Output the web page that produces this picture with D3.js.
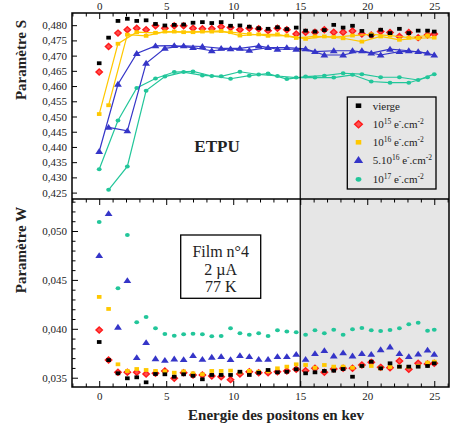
<!DOCTYPE html>
<html>
<head>
<meta charset="utf-8">
<script src="https://cdn.jsdelivr.net/npm/d3@7/dist/d3.min.js"></script>
<style>
  body { margin: 0; background: #fff; }
  svg text { font-family: "Liberation Serif", "Times New Roman", "DejaVu Serif", serif; fill: #222; }
</style>
</head>
<body>
<div id="vis"></div>
<script>

// energies (keV)
var energies = [0, 0.7, 1.4, 2.1, 2.8, 3.5, 4.2, 4.9, 5.6, 6.3, 7, 7.7, 8.4, 9.1, 9.8, 10.5, 11.2, 11.9,
  12.6, 13.3, 14, 14.7, 15.4, 16.1, 16.8, 17.5, 18.2, 18.9, 19.6, 20.3, 21, 21.7, 22.4, 23.1, 23.8, 24.5, 25];

// parametre S
var sVierge = [0.4675,0.4759,0.4814,0.4821,0.4814,0.4816,0.4804,0.4799,0.4801,0.4802,0.4808,0.4810,0.4807,0.4810,0.4798,0.4799,0.4795,0.4790,0.4788,0.4793,0.4787,0.4792,0.4782,0.4779,0.4784,0.4801,0.4792,0.4798,0.4781,0.4766,0.4785,0.4774,0.4788,0.4774,0.4782,0.4782,0.4779];
var s1e15 = [0.4646,0.4730,0.4774,0.4785,0.4790,0.4785,0.4798,0.4790,0.4798,0.4798,0.4790,0.4788,0.4788,0.4795,0.4792,0.4785,0.4790,0.4788,0.4782,0.4790,0.4785,0.4771,0.4777,0.4777,0.4785,0.4777,0.4777,0.4781,0.4771,0.4768,0.4779,0.4776,0.4763,0.4776,0.4759,0.4768,0.4771];
var s1e16 = [0.4508,0.4537,0.4739,0.4769,0.4777,0.4765,0.4775,0.4779,0.4779,0.4777,0.4777,0.4779,0.4779,0.4781,0.4777,0.4766,0.4771,0.4770,0.4765,0.4770,0.4766,0.4758,0.4755,0.4763,0.4763,0.4761,0.4757,0.4766,0.4746,0.4770,0.4763,0.4766,0.4752,0.4759,0.4757,0.4766,0.4759];
var s5e16 = [0.4385,0.4464,0.4606,0.4453,0.4707,0.4675,0.4732,0.4724,0.4733,0.4732,0.4726,0.4730,0.4716,0.4724,0.4722,0.4724,0.4717,0.4732,0.4726,0.4721,0.4726,0.4721,0.4722,0.4713,0.4702,0.4716,0.4702,0.4716,0.4716,0.4708,0.4702,0.4721,0.4713,0.4716,0.4713,0.4708,0.4702];
var s1e17 = [0.4327,0.4259,0.4487,0.4336,0.4594,0.4585,0.4625,0.4631,0.4646,0.4646,0.4648,0.4635,0.4633,0.4632,0.4624,0.4647,0.4634,0.4638,0.4641,0.4633,0.4623,0.4628,0.4631,0.4628,0.4634,0.4628,0.4642,0.4637,0.4639,0.4615,0.4629,0.4611,0.4629,0.4611,0.4620,0.4629,0.4639];

// parametre W
var wVierge = [0.03865,0.03680,0.03545,0.03494,0.03504,0.03453,0.03538,0.03535,0.03510,0.03535,0.03520,0.03484,0.03528,0.03528,0.03528,0.03561,0.03528,0.03551,0.03579,0.03555,0.03561,0.03586,0.03545,0.03555,0.03569,0.03572,0.03589,0.03510,0.03620,0.03664,0.03596,0.03647,0.03613,0.03613,0.03613,0.03620,0.03647];
var w1e15 = [0.03988,0.03681,0.03555,0.03555,0.03555,0.03538,0.03545,0.03569,0.03494,0.03551,0.03528,0.03528,0.03517,0.03510,0.03480,0.03538,0.03561,0.03551,0.03551,0.03561,0.03569,0.03586,0.03572,0.03596,0.03555,0.03589,0.03596,0.03596,0.03630,0.03657,0.03606,0.03602,0.03671,0.03586,0.03647,0.03640,0.03647];
var w1e16 = [0.04326,0.04203,0.03637,0.03569,0.03589,0.03579,0.03569,0.03565,0.03551,0.03565,0.03545,0.03535,0.03569,0.03569,0.03572,0.03555,0.03570,0.03561,0.03565,0.03596,0.03613,0.03637,0.03630,0.03602,0.03630,0.03613,0.03613,0.03602,0.03620,0.03620,0.03596,0.03610,0.03613,0.03610,0.03620,0.03654,0.03664];
var w5e16 = [0.04748,0.05178,0.04016,0.04492,0.03705,0.03858,0.03694,0.03678,0.03691,0.03684,0.03725,0.03688,0.03709,0.03715,0.03684,0.03725,0.03715,0.03688,0.03688,0.03715,0.03715,0.03739,0.03688,0.03746,0.03776,0.03722,0.03753,0.03722,0.03746,0.03739,0.03786,0.03814,0.03746,0.03715,0.03742,0.03783,0.03739];
var w1e17 = [0.05093,null,0.04415,0.04960,0.04067,0.04121,0.04005,0.03947,0.03930,0.03944,0.03950,0.03944,0.03924,0.03927,0.04005,0.03954,0.03940,0.03954,0.03927,0.03985,0.03972,0.03964,0.03940,0.03985,0.03954,0.03991,0.03940,0.03995,0.04008,0.03985,0.03978,0.03988,0.04005,0.04046,0.04063,0.03981,0.03991];

var xTicks = [0, 5, 10, 15, 20, 25];
var xMinorTicks = [-2, -1, 1, 2, 3, 4, 6, 7, 8, 9, 11, 12, 13, 14, 16, 17, 18, 19, 21, 22, 23, 24, 26];
var sTicks = [0.425, 0.430, 0.435, 0.440, 0.445, 0.450, 0.455, 0.460, 0.465, 0.470, 0.475, 0.480];
var wTicks = [0.035, 0.040, 0.045, 0.050];
var wMinorTicks = [0.036, 0.037, 0.038, 0.039, 0.041, 0.042, 0.043, 0.044, 0.046, 0.047, 0.048, 0.049, 0.051, 0.052, 0.053];
var shadeFrom = 15;

var width = 452;
var height = 427;
var mLeft = 72, mRight = 449, mTop = 13, mMid = 199, mBottom = 387;
var serif = '"Liberation Serif", "Times New Roman", serif';

var x = d3.scaleLinear().domain([-2.03, 26.1]).range([mLeft, mRight]);
var yS = d3.scaleLinear().domain([0.4229, 0.4840]).range([mMid, mTop]);
var yW = d3.scaleLinear().domain([0.03405, 0.05327]).range([mBottom, mMid]);

var comma = function(d) { return d3.format('.3f')(d).replace('.', ','); };

var svg = d3.select('#vis').append('svg')
  .attr('width', width)
  .attr('height', height);

svg.append('rect').attr('width', width).attr('height', height).attr('fill', '#fff');

// shaded part of both panels
svg.append('rect')
  .attr('x', x(shadeFrom)).attr('y', mTop)
  .attr('width', mRight - x(shadeFrom)).attr('height', mBottom - mTop)
  .attr('fill', '#e6e6e6');

var defs = svg.append('defs');
defs.append('clipPath').attr('id', 'clipS').append('rect')
  .attr('x', mLeft).attr('y', mTop).attr('width', mRight - mLeft).attr('height', mMid - mTop);
defs.append('clipPath').attr('id', 'clipW').append('rect')
  .attr('x', mLeft).attr('y', mMid).attr('width', mRight - mLeft).attr('height', mBottom - mMid);

var series = [
  { name: 'vierge', s: sVierge, w: wVierge, shape: 'square', color: '#000000', line: false },
  { name: '1e15', s: s1e15, w: w1e15, shape: 'diamond', color: '#ff1a1a', line: false },
  { name: '1e16', s: s1e16, w: w1e16, shape: 'square', color: '#ffc800', line: true },
  { name: '5e16', s: s5e16, w: w5e16, shape: 'triangle', color: '#3535c8', line: true },
  { name: '1e17', s: s1e17, w: w1e17, shape: 'circle', color: '#22c69a', line: true }
];
var drawOrder = [4, 3, 1, 2, 0];

function marker(sel, shape, color, big) {
  var k = big ? 1.2 : 1;
  if (shape === 'square') {
    sel.append('rect').attr('x', -2.3 * k).attr('y', -1.9 * k)
      .attr('width', 4.6 * k).attr('height', 3.8 * k).attr('fill', color);
  } else if (shape === 'diamond') {
    sel.append('path')
      .attr('d', 'M0,' + (-3 * k) + 'L' + (3.2 * k) + ',0L0,' + (3 * k) + 'L' + (-3.2 * k) + ',0Z')
      .attr('fill', '#ff5050').attr('stroke', color).attr('stroke-width', 1.4);
  } else if (shape === 'triangle') {
    sel.append('path')
      .attr('d', 'M0,' + (-3.4 * k) + 'L' + (3.9 * k) + ',' + (2.4 * k) + 'L' + (-3.9 * k) + ',' + (2.4 * k) + 'Z')
      .attr('fill', color);
  } else {
    sel.append('ellipse').attr('rx', 2.4 * k).attr('ry', 2 * k).attr('fill', color);
  }
}

function points(vals) {
  return energies.map(function(e, i) { return { e: e, v: vals[i], i: i }; })
    .filter(function(d) { return d.v != null; });
}

function drawPanel(key, yScale, clipId, withLines) {
  var g = svg.append('g').attr('clip-path', 'url(#' + clipId + ')');
  var line = d3.line()
    .x(function(d) { return x(d.e); })
    .y(function(d) { return yScale(d.v); });

  drawOrder.forEach(function(k) {
    var s = series[k];
    var pts = points(s[key]);
    if (withLines && s.line) {
      // two interleaved scans
      [0, 1].forEach(function(p) {
        g.append('path')
          .datum(pts.filter(function(d) { return d.i % 2 === p; }))
          .attr('d', line)
          .attr('fill', 'none')
          .attr('stroke', s.color)
          .attr('stroke-width', 1.2);
      });
    }
    g.selectAll('.m' + k)
      .data(pts)
      .enter().append('g')
      .attr('transform', function(d) { return 'translate(' + x(d.e) + ',' + yScale(d.v) + ')'; })
      .each(function() { marker(d3.select(this), s.shape, s.color, false); });
  });
}

drawPanel('s', yS, 'clipS', true);
drawPanel('w', yW, 'clipW', false);

// axes
function styleAxis(g) {
  g.attr('font-family', serif);
  g.select('.domain').remove();
  g.selectAll('line').attr('stroke', '#000').attr('stroke-width', 1);
  g.selectAll('text').style('font-size', '11px').attr('fill', '#222');
}

svg.append('g').attr('transform', 'translate(0,' + mTop + ')')
  .call(d3.axisTop(x).tickValues(xTicks).tickSizeInner(-6).tickSizeOuter(0).tickPadding(3))
  .call(styleAxis);
svg.append('g').attr('transform', 'translate(0,' + mTop + ')')
  .call(d3.axisTop(x).tickValues(xMinorTicks).tickSizeInner(-3.5).tickSizeOuter(0).tickFormat(''))
  .call(styleAxis);

svg.append('g').attr('transform', 'translate(0,' + mBottom + ')')
  .call(d3.axisBottom(x).tickValues(xTicks).tickSizeInner(-6).tickSizeOuter(0).tickPadding(5))
  .call(styleAxis);
svg.append('g').attr('transform', 'translate(0,' + mBottom + ')')
  .call(d3.axisBottom(x).tickValues(xMinorTicks).tickSizeInner(-3.5).tickSizeOuter(0).tickFormat(''))
  .call(styleAxis);

// ticks under the separator
svg.append('g').attr('transform', 'translate(0,' + mMid + ')')
  .call(d3.axisTop(x).tickValues(xTicks).tickSizeInner(-6).tickSizeOuter(0).tickFormat(''))
  .call(styleAxis);
svg.append('g').attr('transform', 'translate(0,' + mMid + ')')
  .call(d3.axisTop(x).tickValues(xMinorTicks).tickSizeInner(-3.5).tickSizeOuter(0).tickFormat(''))
  .call(styleAxis);

svg.append('g').attr('transform', 'translate(' + mLeft + ',0)')
  .call(d3.axisLeft(yS).tickValues(sTicks).tickFormat(comma).tickSizeInner(-5).tickSizeOuter(0).tickPadding(5))
  .call(styleAxis);

svg.append('g').attr('transform', 'translate(' + mLeft + ',0)')
  .call(d3.axisLeft(yW).tickValues(wTicks).tickFormat(comma).tickSizeInner(-6).tickSizeOuter(0).tickPadding(5))
  .call(styleAxis);
svg.append('g').attr('transform', 'translate(' + mLeft + ',0)')
  .call(d3.axisLeft(yW).tickValues(wMinorTicks).tickFormat('').tickSizeInner(-3.5).tickSizeOuter(0))
  .call(styleAxis);

// frame, separator and the 15 keV line
svg.append('rect')
  .attr('x', mLeft).attr('y', mTop).attr('width', mRight - mLeft).attr('height', mBottom - mTop)
  .attr('fill', 'none').attr('stroke', '#000').attr('stroke-width', 1.5);
svg.append('line')
  .attr('x1', mLeft).attr('x2', mRight).attr('y1', mMid).attr('y2', mMid)
  .attr('stroke', '#000').attr('stroke-width', 1.5);
svg.append('line')
  .attr('x1', x(shadeFrom)).attr('x2', x(shadeFrom)).attr('y1', mTop).attr('y2', mBottom)
  .attr('stroke', '#000').attr('stroke-width', 1.2);

// titles
svg.append('text')
  .attr('transform', 'translate(26,60) rotate(-90)')
  .attr('text-anchor', 'middle')
  .style('font-size', '15px').style('font-weight', 'bold')
  .text('Paramètre S');
svg.append('text')
  .attr('transform', 'translate(26,250) rotate(-90)')
  .attr('text-anchor', 'middle')
  .style('font-size', '15px').style('font-weight', 'bold')
  .text('Paramètre W');
svg.append('text')
  .attr('x', 276).attr('y', 420)
  .attr('text-anchor', 'middle')
  .style('font-size', '15px').style('font-weight', 'bold')
  .text('Energie des positons en kev');
svg.append('text')
  .attr('x', 217).attr('y', 152)
  .attr('text-anchor', 'middle')
  .style('font-size', '17px').style('font-weight', 'bold')
  .text('ETPU');

// film box
svg.append('rect')
  .attr('x', 180.7).attr('y', 235).attr('width', 80).attr('height', 63.3)
  .attr('fill', '#fff').attr('stroke', '#000').attr('stroke-width', 1.3);
['Film n°4', '2 µA', '77 K'].forEach(function(t, i) {
  svg.append('text')
    .attr('x', 220.7).attr('y', 257 + i * 17.5)
    .attr('text-anchor', 'middle')
    .style('font-size', '16px')
    .text(t);
});

// legend
var legendRows = [
  [['vierge', 0]],
  [['10', 0], ['15', 1], [' e', 0], ['-', 1], ['.cm', 0], ['-2', 1]],
  [['10', 0], ['16', 1], [' e', 0], ['-', 1], ['.cm', 0], ['-2', 1]],
  [['5.10', 0], ['16', 1], [' e', 0], ['-', 1], ['.cm', 0], ['-2', 1]],
  [['10', 0], ['17', 1], [' e', 0], ['-', 1], ['.cm', 0], ['-2', 1]]
];
var legendY = [105.7, 124.3, 142.3, 160, 179.3];

var legend = svg.append('g');
legend.append('rect')
  .attr('x', 347.3).attr('y', 97).attr('width', 88.7).attr('height', 92)
  .attr('fill', 'none').attr('stroke', '#000').attr('stroke-width', 1.3);

series.forEach(function(s, i) {
  var row = legend.append('g');
  marker(row.append('g').attr('transform', 'translate(358.5,' + legendY[i] + ')'), s.shape, s.color, true);
  var txt = row.append('text')
    .attr('x', 372.7).attr('y', legendY[i] + 3.8)
    .style('font-size', '11px');
  var up = false;
  legendRows[i].forEach(function(part) {
    var sup = part[1] === 1;
    var dy = 0;
    if (sup && !up) dy = -4;
    if (!sup && up) dy = 4;
    up = sup;
    txt.append('tspan')
      .attr('dy', dy)
      .style('font-size', sup ? '7.5px' : '11px')
      .text(part[0]);
  });
});

</script>
</body>
</html>
